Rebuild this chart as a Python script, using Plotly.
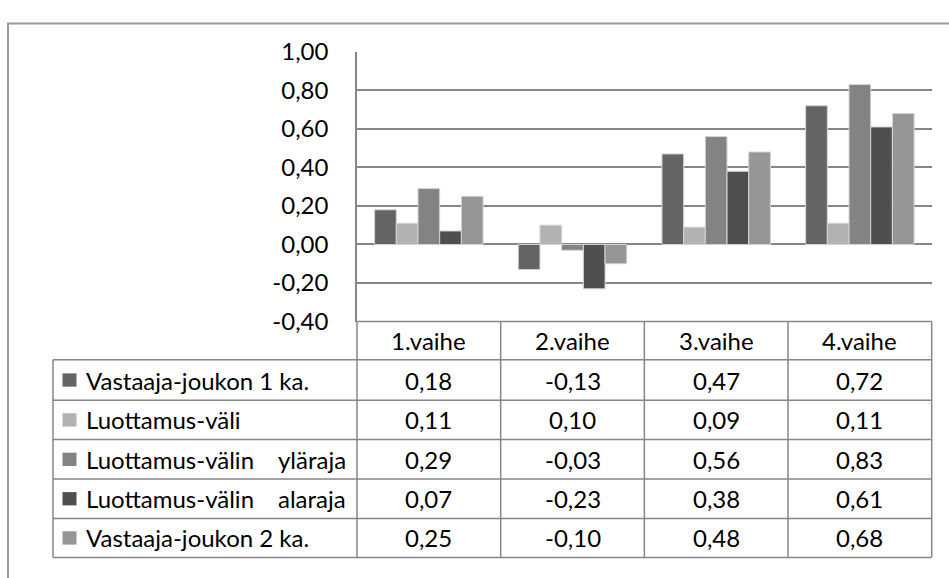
import plotly.graph_objects as go

categories = ["1.vaihe", "2.vaihe", "3.vaihe", "4.vaihe"]
series_names = [
    "Vastaaja-joukon 1 ka.",
    "Luottamus-väli",
    "Luottamus-välin yläraja",
    "Luottamus-välin alaraja",
    "Vastaaja-joukon 2 ka.",
]
s1 = [0.18, -0.13, 0.47, 0.72]
s2 = [0.11, 0.10, 0.09, 0.11]
s3 = [0.29, -0.03, 0.56, 0.83]
s4 = [0.07, -0.23, 0.38, 0.61]
s5 = [0.25, -0.10, 0.48, 0.68]
series_values = [s1, s2, s3, s4, s5]
colors = ["#646464", "#b2b2b2", "#838383", "#4f4f4f", "#969696"]
tick_vals = [-0.4, -0.2, 0.0, 0.2, 0.4, 0.6, 0.8, 1.0]
tick_labels = ["-0,40", "-0,20", "0,00", "0,20", "0,40", "0,60", "0,80", "1,00"]
justified = {2, 3}

W, H = 949, 578
FONT = "Lato"
FS = 24
GRID = "#868686"

def px(x):
    return x / W

def py(y):
    return 1 - y / H

plot_l, plot_r, plot_t, plot_b = 357, 931.7, 37.7, 321.7
table_l = 53
row_edges = [321.7, 362, 404.5, 446, 487.5, 529, 570]

fig = go.Figure()
for name, vals, c in zip(series_names, series_values, colors):
    fig.add_trace(go.Bar(
        x=categories, y=vals, name=name,
        marker=dict(color=c, line=dict(color="#d4d4d4", width=1)),
    ))

shapes = []
annotations = []

shapes.append(dict(type="rect", xref="paper", yref="paper",
                   x0=px(8), x1=px(1000), y0=py(8), y1=py(640),
                   line=dict(color="#9a9a9a", width=2)))

ncat = len(categories)
col_w = (plot_r - plot_l) / ncat
col_edges = [plot_l + i * col_w for i in range(ncat + 1)]

for i, y in enumerate(row_edges):
    x0 = plot_l if i == 0 else table_l
    shapes.append(dict(type="line", xref="paper", yref="paper",
                       x0=px(x0), x1=px(plot_r), y0=py(y), y1=py(y),
                       line=dict(color=GRID, width=1.5)))
for x in col_edges:
    shapes.append(dict(type="line", xref="paper", yref="paper",
                       x0=px(x), x1=px(x), y0=py(row_edges[0]), y1=py(row_edges[-1]),
                       line=dict(color=GRID, width=1.5)))
shapes.append(dict(type="line", xref="paper", yref="paper",
                   x0=px(table_l), x1=px(table_l), y0=py(row_edges[1]), y1=py(row_edges[-1]),
                   line=dict(color=GRID, width=1.5)))

for j, cat in enumerate(categories):
    cx = (col_edges[j] + col_edges[j + 1]) / 2
    cy = (row_edges[0] + row_edges[1]) / 2
    annotations.append(dict(xref="paper", yref="paper", x=px(cx), y=py(cy),
                            text=cat, showarrow=False, xanchor="center", yanchor="middle",
                            font=dict(family=FONT, size=FS, color="#000")))

for i, (name, vals, c) in enumerate(zip(series_names, series_values, colors)):
    top, bot = row_edges[i + 1], row_edges[i + 2]
    cy = (top + bot) / 2
    shapes.append(dict(type="rect", xref="paper", yref="paper",
                       x0=px(62.5), x1=px(76.5), y0=py(cy - 7), y1=py(cy + 7),
                       fillcolor=c, line=dict(width=0)))
    if i in justified:
        first, last = name.rsplit(" ", 1)
        annotations.append(dict(xref="paper", yref="paper", x=px(84), y=py(cy),
                                text=first, showarrow=False, xanchor="left", yanchor="middle",
                                font=dict(family=FONT, size=FS, color="#000")))
        annotations.append(dict(xref="paper", yref="paper", x=px(348), y=py(cy),
                                text=last, showarrow=False, xanchor="right", yanchor="middle",
                                font=dict(family=FONT, size=FS, color="#000")))
    else:
        annotations.append(dict(xref="paper", yref="paper", x=px(84), y=py(cy),
                                text=name, showarrow=False, xanchor="left", yanchor="middle",
                                font=dict(family=FONT, size=FS, color="#000")))
    for j, v in enumerate(vals):
        cx = (col_edges[j] + col_edges[j + 1]) / 2
        txt = f"{v:.2f}".replace(".", ",")
        annotations.append(dict(xref="paper", yref="paper", x=px(cx), y=py(cy),
                                text=txt, showarrow=False, xanchor="center", yanchor="middle",
                                font=dict(family=FONT, size=FS, color="#000")))

fig.update_layout(
    width=W, height=H, autosize=False,
    margin=dict(l=0, r=0, t=0, b=0, pad=0),
    paper_bgcolor="white", plot_bgcolor="white",
    barmode="group", bargap=0.245, bargroupgap=0,
    showlegend=False,
    xaxis=dict(domain=[px(plot_l), px(plot_r)], showticklabels=False, showgrid=False,
               zeroline=False, showline=False, anchor="y"),
    yaxis=dict(domain=[py(plot_b), py(plot_t)], range=[-0.4, 1.0],
               tickmode="array", tickvals=tick_vals, ticktext=tick_labels,
               showgrid=True, gridcolor=GRID, gridwidth=1.5,
               zeroline=True, zerolinecolor=GRID, zerolinewidth=1.5,
               showline=True, linecolor=GRID, linewidth=1.5, ticks="",
               ticklabelstandoff=22,
               tickfont=dict(family=FONT, size=FS, color="#000"), anchor="x"),
    shapes=shapes,
    annotations=annotations,
)
fig.write_html("out.html", config={"displayModeBar": False},
               post_script="document.body.style.margin='0';document.body.style.overflow='hidden';")
